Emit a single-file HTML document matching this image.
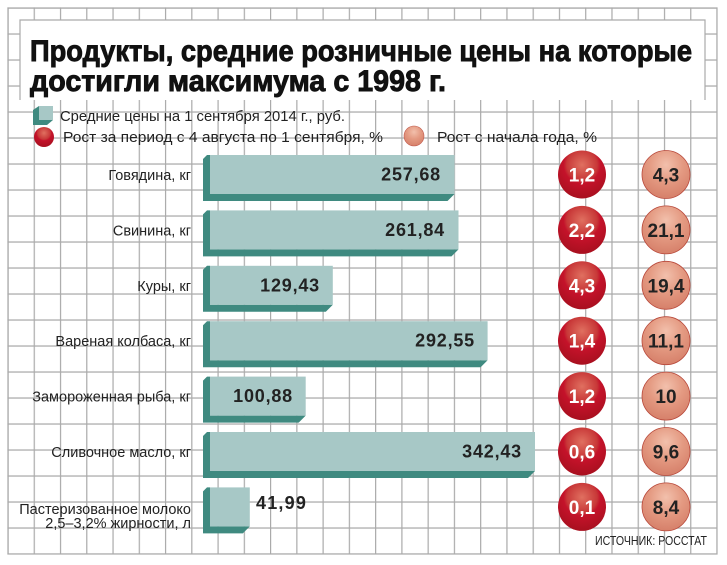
<!DOCTYPE html>
<html><head><meta charset="utf-8"><style>
html,body{margin:0;padding:0;background:#fff;}
svg{display:block;font-family:"Liberation Sans","DejaVu Sans",sans-serif;}
</style></head><body>
<svg width="727" height="565" viewBox="0 0 727 565" xmlns="http://www.w3.org/2000/svg">
<defs>
<radialGradient id="rd" cx="0.5" cy="0.3" r="0.7">
<stop offset="0" stop-color="#e07060"/><stop offset="0.45" stop-color="#c83838"/><stop offset="0.55" stop-color="#c4122a"/><stop offset="1" stop-color="#a8101f"/></radialGradient>
<radialGradient id="lt" cx="0.5" cy="0.3" r="0.7">
<stop offset="0" stop-color="#f2c0ac"/><stop offset="0.5" stop-color="#e49a82"/><stop offset="1" stop-color="#d6806a"/></radialGradient>
<pattern id="gp" x="7.4" y="7.4" width="26.26" height="26" patternUnits="userSpaceOnUse">
<path d="M0,0.6 H26.26 M0.6,0 V26" stroke="#aaaaaa" stroke-width="1.2" fill="none"/>
</pattern>
</defs>
<rect x="7.4" y="7.4" width="710" height="547" fill="url(#gp)"/>
<rect x="8" y="8" width="709" height="546" fill="none" stroke="#aaaaaa" stroke-width="1.2"/>
<rect x="20" y="20" width="685" height="80" fill="#fff"/>
<polyline points="20,100 20,20 705,20 705,100" fill="none" stroke="#aaaaaa" stroke-width="1.2"/>
<g stroke="#111" stroke-width="0.9">
<text x="30" y="61" font-size="30" font-weight="bold" fill="#111" textLength="662" lengthAdjust="spacingAndGlyphs">Продукты, средние розничные цены на которые</text>
<text x="30" y="91" font-size="30" font-weight="bold" fill="#111" textLength="416" lengthAdjust="spacingAndGlyphs">достигли максимума с 1998 г.</text>
</g>
<polygon points="33,110 39,106 39,120 53,120 47,125 33,125" fill="#3f8a80"/>
<rect x="39" y="106" width="14" height="14" fill="#a7c8c6"/>
<text x="60" y="121" font-size="14.5" fill="#222" textLength="285" lengthAdjust="spacingAndGlyphs">Средние цены на 1 сентября 2014 г., руб.</text>
<circle cx="44" cy="137" r="10" fill="url(#rd)"/>
<text x="63" y="142" font-size="14.5" fill="#222" textLength="320" lengthAdjust="spacingAndGlyphs">Рост за период с 4 августа по 1 сентября, %</text>
<circle cx="414" cy="136" r="10" fill="url(#lt)" stroke="#c0584a" stroke-width="0.6"/>
<text x="437" y="142" font-size="14.5" fill="#222" textLength="160" lengthAdjust="spacingAndGlyphs">Рост с начала года, %</text>

<g fill="#3f8a80">
<polygon points="203,159 207,155 210,155 210,194 454.5,194 447.5,201 203,201"/>
<polygon points="203,214.4 207,210.4 210,210.4 210,249.4 458.5,249.4 451.5,256.4 203,256.4"/>
<polygon points="203,269.8 207,265.8 210,265.8 210,304.8 332.8,304.8 325.8,311.8 203,311.8"/>
<polygon points="203,325.2 207,321.2 210,321.2 210,360.2 487.6,360.2 480.6,367.2 203,367.2"/>
<polygon points="203,380.6 207,376.6 210,376.6 210,415.6 305.7,415.6 298.7,422.6 203,422.6"/>
<polygon points="203,436 207,432 210,432 210,471 535,471 528,478 203,478"/>
<polygon points="203,491.4 207,487.4 210,487.4 210,526.4 249.8,526.4 242.8,533.4 203,533.4"/>
</g>
<g fill="#a7c8c6">
<rect x="210" y="155" width="244.5" height="39"/>
<rect x="210" y="210.4" width="248.5" height="39"/>
<rect x="210" y="265.8" width="122.8" height="39"/>
<rect x="210" y="321.2" width="277.6" height="39"/>
<rect x="210" y="376.6" width="95.7" height="39"/>
<rect x="210" y="432" width="325" height="39"/>
<rect x="210" y="487.4" width="39.8" height="39"/>
</g>
<g font-size="18" font-weight="bold" fill="#222" text-anchor="end" letter-spacing="0.8">
<text x="441" y="180.5">257,68</text>
<text x="445" y="235.9">261,84</text>
<text x="320" y="291.3">129,43</text>
<text x="475" y="346.7">292,55</text>
<text x="293" y="402.1">100,88</text>
<text x="522" y="457.5">342,43</text>
</g>
<text x="256" y="509" font-size="18" font-weight="bold" fill="#222" letter-spacing="1.2">41,99</text>
<g font-size="14.5" fill="#222" text-anchor="end">
<text x="191" y="180">Говядина, кг</text>
<text x="191" y="235.4">Свинина, кг</text>
<text x="191" y="290.8">Куры, кг</text>
<text x="191" y="346.2">Вареная колбаса, кг</text>
<text x="191" y="401.6">Замороженная рыба, кг</text>
<text x="191" y="457">Сливочное масло, кг</text>
<text x="191" y="514">Пастеризованное молоко</text>
<text x="191" y="528">2,5–3,2% жирности, л</text>
</g>
<g fill="url(#rd)">
<circle cx="582" cy="174.5" r="24"/>
<circle cx="582" cy="229.9" r="24"/>
<circle cx="582" cy="285.3" r="24"/>
<circle cx="582" cy="340.7" r="24"/>
<circle cx="582" cy="396.1" r="24"/>
<circle cx="582" cy="451.5" r="24"/>
<circle cx="582" cy="506.9" r="24"/>
</g>
<g fill="url(#lt)" stroke="#b8483a" stroke-width="0.8">
<circle cx="666" cy="174.5" r="24"/>
<circle cx="666" cy="229.9" r="24"/>
<circle cx="666" cy="285.3" r="24"/>
<circle cx="666" cy="340.7" r="24"/>
<circle cx="666" cy="396.1" r="24"/>
<circle cx="666" cy="451.5" r="24"/>
<circle cx="666" cy="506.9" r="24"/>
</g>
<g font-size="19" font-weight="bold" fill="#fff" text-anchor="middle">
<text x="582" y="181.5">1,2</text>
<text x="582" y="236.9">2,2</text>
<text x="582" y="292.3">4,3</text>
<text x="582" y="347.7">1,4</text>
<text x="582" y="403.1">1,2</text>
<text x="582" y="458.5">0,6</text>
<text x="582" y="513.9">0,1</text>
</g>
<g font-size="19" font-weight="bold" fill="#222" text-anchor="middle">
<text x="666" y="181.5">4,3</text>
<text x="666" y="236.9">21,1</text>
<text x="666" y="292.3">19,4</text>
<text x="666" y="347.7">11,1</text>
<text x="666" y="403.1">10</text>
<text x="666" y="458.5">9,6</text>
<text x="666" y="513.9">8,4</text>
</g>
<text x="707" y="545" text-anchor="end" font-size="12.5" fill="#222" textLength="112" lengthAdjust="spacingAndGlyphs">ИСТОЧНИК: РОССТАТ</text>
</svg>
</body></html>
